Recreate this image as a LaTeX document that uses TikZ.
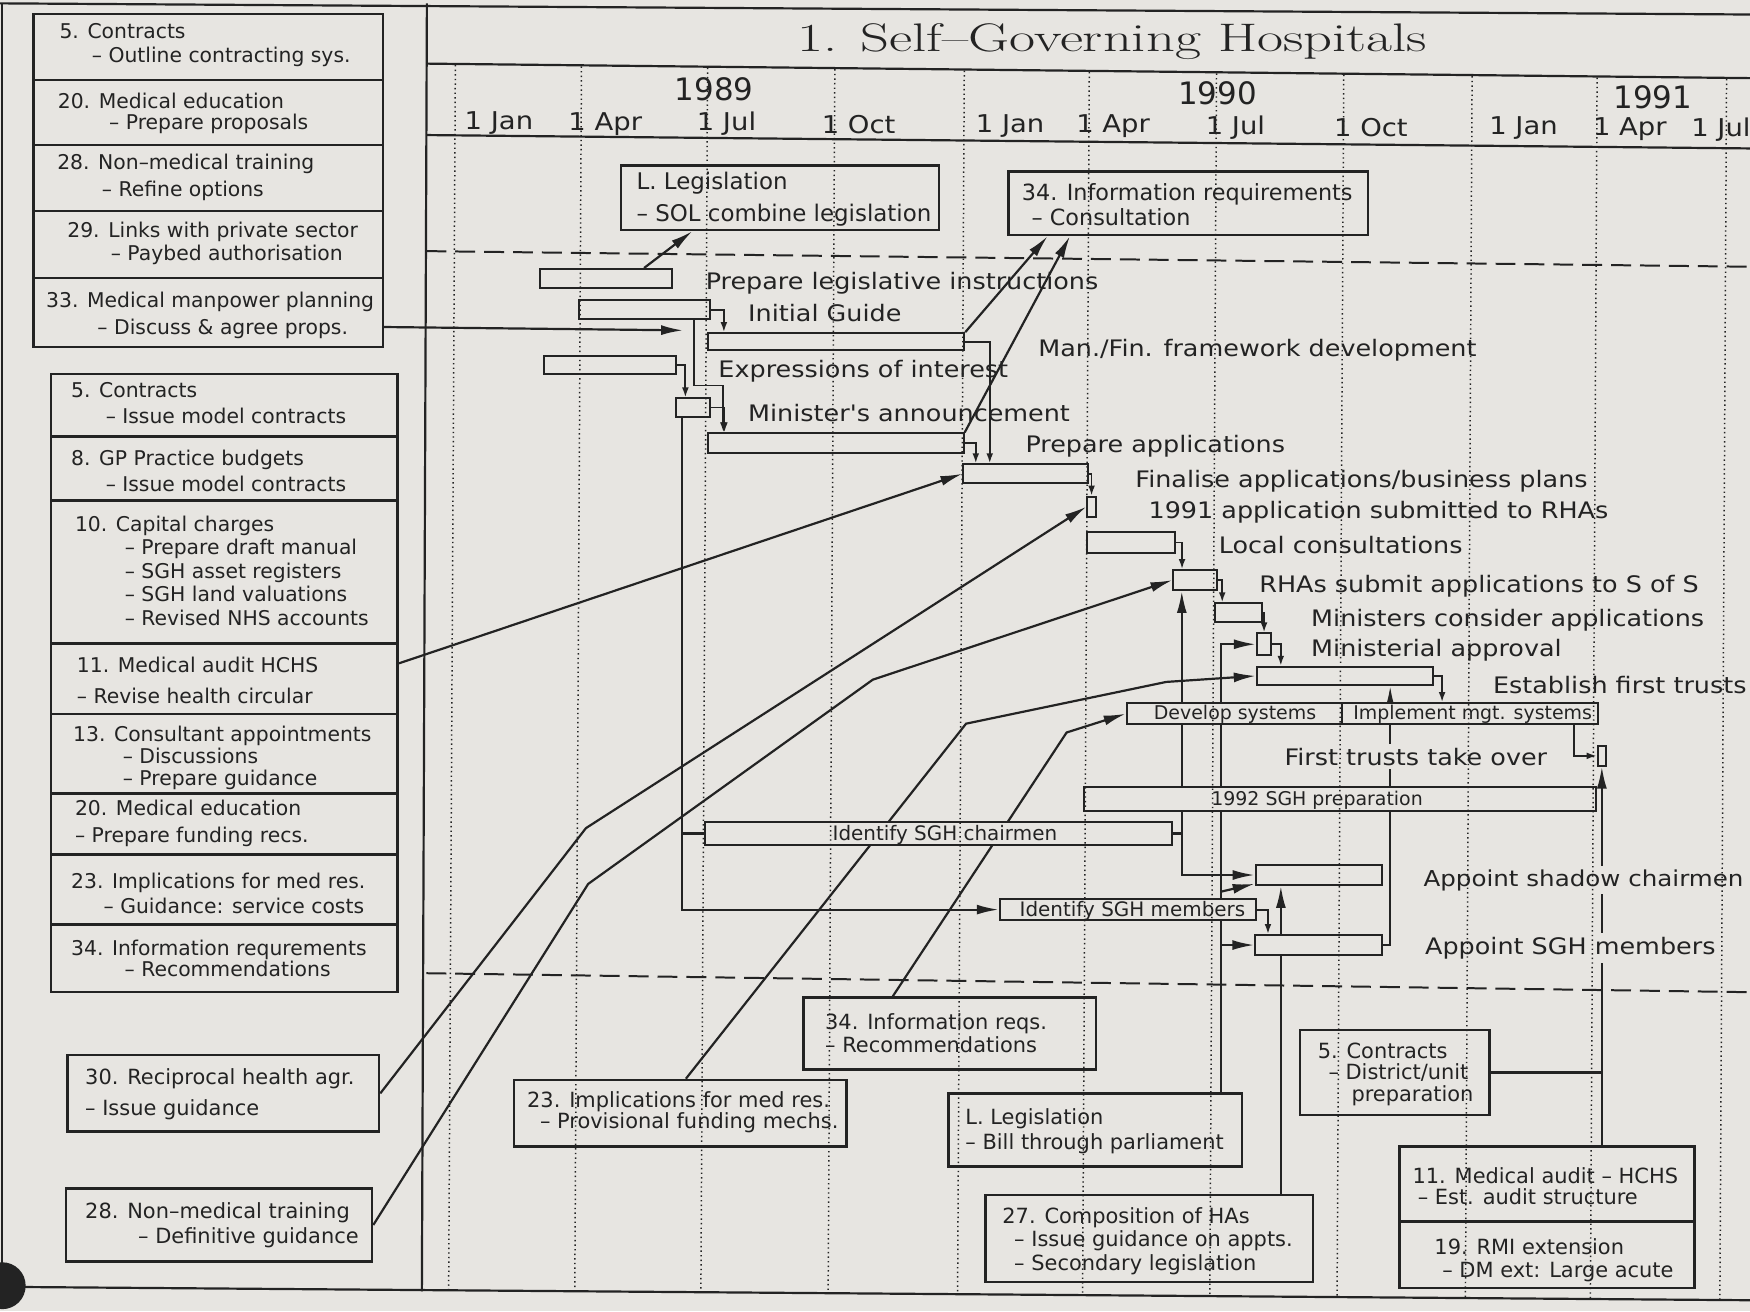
\documentclass[tikz,border=0pt]{standalone}
\usepackage{fontspec}
\usepackage{graphicx}
\newfontfamily\plotfont{DejaVu Sans}
\newfontfamily\wideplot{DejaVu Sans}[FakeStretch=1.12]
\usepackage{tikz}
\usetikzlibrary{arrows.meta}
\usetikzlibrary{fit,calc}
\definecolor{paper}{RGB}{231,229,225}
\definecolor{ink}{RGB}{35,35,35}
\newlength{\pxu}\setlength{\pxu}{0.56pt}
\pgfdeclarelayer{bg}\pgfdeclarelayer{fg}\pgfsetlayers{bg,main,fg}

\begin{document}
\begin{tikzpicture}[x=0.56pt,y=-0.56pt]
	\tikzstyle{panel}=[draw=ink,line width=1.3pt,inner sep=0pt]
	\tikzstyle{bar}=[draw=ink,fill=paper,line width=1pt,inner sep=0pt,text=ink,font=\plotfont\fontsize{9.5}{11}\selectfont]
	\tikzstyle{barlbl}=[inner sep=0pt,text=ink,font=\plotfont\fontsize{9.5}{11}\selectfont]
	\tikzstyle{boxtxt}=[anchor=west,align=left,inner sep=0pt,text=ink,font=\plotfont\fontsize{10.2}{11.8}\selectfont]
	\tikzstyle{notetxt}=[boxtxt,font=\plotfont\fontsize{10.5}{12.6}\selectfont]
	\tikzstyle{lbl}=[anchor=west,inner sep=0pt,text=ink,font=\wideplot\fontsize{11.4}{13}\selectfont]
	\tikzstyle{monthlbl}=[anchor=west,inner sep=0pt,text=ink,font=\wideplot\fontsize{12.3}{14}\selectfont]
	\tikzstyle{yearlbl}=[inner sep=0pt,text=ink,font=\plotfont\fontsize{15.5}{18}\selectfont]
	\tikzstyle{feed}=[draw=ink,line width=1.1pt,-{Latex[length=11pt,width=5pt]}]
	\tikzstyle{link}=[draw=ink,line width=0.9pt,-{Latex[length=5pt,width=3.4pt]}]
	\tikzstyle{gridline}=[draw=ink,line width=0.75pt,dash pattern=on 0.7pt off 1.6pt]
	\tikzstyle{rule}=[draw=ink,line width=1.1pt]

	\begin{pgfonlayer}{bg}
		\fill[paper] (0,0) rectangle (1568,1175);
	\end{pgfonlayer}
	\useasboundingbox (0,0) rectangle (1568,1175);

	% frame and time scale
	\draw[rule] (0,3) -- (1568,13);
	\draw[rule] (2,3) -- (2,1153);
	\draw[rule] (382.5,3) -- (378,1157);
	\draw[rule] (382,57) -- (1568,70);
	\draw[rule] (382,121) -- (1568,133);
	\draw[rule] (0,1153) -- (1568,1165);
	\draw[ink,line width=1pt,dash pattern=on 10pt off 4.5pt] (382,225) -- (1568,239);
	\draw[ink,line width=1pt,dash pattern=on 10pt off 4.5pt] (382,872) -- (1568,889);
	\fill[ink] (2,1152) circle (21);

	\node[anchor=base,inner sep=0pt,text=ink] (title) at (996.8,46) {\scalebox{1.42}[1]{\fontsize{20}{24}\selectfont 1. Self–Governing Hospitals}};
	\node[yearlbl] (y89) at (640,80) {1989};
	\node[yearlbl] (y90) at (1091,84) {1990};
	\node[yearlbl] (y91) at (1481,87) {1991};
	\foreach \mx/\my/\mt [count=\i] in {416/110/1 Jan,509/111/1 Apr,624/111/1 Jul,736/112/1 Oct,874/113/1 Jan,964/113/1 Apr,1080/114/1 Jul,1195/114/1 Oct,1334/115/1 Jan,1427/115.5/1 Apr,1515/116/1 Jul}
		\node[monthlbl] (m\i) at (\mx,\my) {\mt};

	% left panel
	\node[panel,fit={(30.2,12.5) (343,71.7)}] (con5) {};
	\node[panel,fit={(30.2,71.7) (343,130)}] (med20) {};
	\node[panel,fit={(30.2,130) (343,189)}] (nmt28a) {};
	\node[panel,fit={(30.2,189) (343,249)}] (pri29) {};
	\node[panel,fit={(30.2,249) (343,311)}] (man33) {};
	\node[boxtxt] (con5t) at (53,40.3) {5. Contracts\\\hspace*{29\pxu}– Outline contracting sys.};
	\node[boxtxt] (med20t) at (51.5,101.9) {20. Medical education\\[-2.5\pxu]\hspace*{46\pxu}– Prepare proposals};
	\node[boxtxt] (nmt28at) at (51,159) {28. Non–medical training\\[3\pxu]\hspace*{40\pxu}– Refine options};
	\node[boxtxt] (pri29t) at (60,218) {29. Links with private sector\\\hspace*{39\pxu}– Paybed authorisation};
	\node[boxtxt] (man33t) at (41,282.3) {33. Medical manpower planning\\[3\pxu]\hspace*{46\pxu}– Discuss \& agree props.};

	\node[panel,fit={(45.6,335.2) (356.3,391)}] (con5b) {};
	\node[panel,fit={(45.6,391) (356.3,448.6)}] (gpb8) {};
	\node[panel,fit={(45.6,448.6) (356.3,576.8)}] (cap10) {};
	\node[panel,fit={(45.6,576.8) (356.3,639.9)}] (aud11) {};
	\node[panel,fit={(45.6,639.9) (356.3,711.2)}] (cons13) {};
	\node[panel,fit={(45.6,711.2) (356.3,765.4)}] (med20b) {};
	\node[panel,fit={(45.6,765.4) (356.3,828.6)}] (imp23a) {};
	\node[panel,fit={(45.6,828.6) (356.3,888.8)}] (inf34a) {};
	\node[boxtxt] (con5bt) at (63.4,361.5) {5. Contracts\\[2\pxu]\hspace*{31\pxu}– Issue model contracts};
	\node[boxtxt] (gpb8t) at (63.4,421.7) {8. GP Practice budgets\\[2\pxu]\hspace*{31\pxu}– Issue model contracts};
	\node[boxtxt] (cap10t) at (66.9,511.3) {10. Capital charges\\\hspace*{44.6\pxu}– Prepare draft manual\\\hspace*{44.6\pxu}– SGH asset registers\\\hspace*{44.6\pxu}– SGH land valuations\\\hspace*{44.6\pxu}– Revised NHS accounts};
	\node[boxtxt] (aud11t) at (68.6,609.6) {11. Medical audit HCHS\\[6\pxu]– Revise health circular};
	\node[boxtxt] (cons13t) at (65.2,679) {13. Consultant appointments\\[-1\pxu]\hspace*{44.5\pxu}– Discussions\\[-1\pxu]\hspace*{44.5\pxu}– Prepare guidance};
	\node[boxtxt] (med20bt) at (66.9,737.5) {20. Medical education\\[3\pxu]– Prepare funding recs.};
	\node[boxtxt] (imp23at) at (63.4,800.5) {23. Implications for med res.\\[1\pxu]\hspace*{29.2\pxu}– Guidance: service costs};
	\node[boxtxt] (inf34at) at (63.4,858.7) {34. Information requrements\\[-2\pxu]\hspace*{48\pxu}– Recommendations};

	\node[panel,fit={(60.7,945.3) (339.6,1014)}] (rha30) {};
	\node[panel,fit={(59,1064.7) (333.3,1130.5)}] (nmt28) {};
	\node[notetxt] (rha30t) at (76,980.3) {30. Reciprocal health agr.\\[5.6\pxu]– Issue guidance};
	\node[notetxt] (nmt28t) at (76,1097.4) {28. Non–medical training\\\hspace*{47.5\pxu}– Definitive guidance};

	% notes in the chart
	\node[panel,fit={(556.5,148.5) (841.5,206)}] (legal) {};
	\node[panel,fit={(903.8,153.8) (1225.8,210.5)}] (info) {};
	\node[panel,fit={(720,894) (982,958)}] (inf34) {};
	\node[panel,fit={(460.4,967.7) (758.7,1027.5)}] (imp23) {};
	\node[panel,fit={(850,979.7) (1113,1045.4)}] (bill) {};
	\node[panel,fit={(883.2,1070.8) (1176.5,1148.5)}] (comp27) {};
	\node[panel,fit={(1164.9,923) (1334.8,999)}] (dist5) {};
	\node[panel,fit={(1254,1027.5) (1518,1094.7)}] (aud11b) {};
	\node[panel,fit={(1254,1094.7) (1518,1154)}] (rmi19) {};
	\node[notetxt,font=\plotfont\fontsize{11.5}{13}\selectfont] (legalt) at (570,178.3) {L. Legislation\\[5\pxu]– SOL combine legislation};
	\node[notetxt,font=\plotfont\fontsize{11.2}{13}\selectfont] (infot) at (915.3,183.4) {34. Information requirements\\\hspace*{8.7\pxu}– Consultation};
	\node[notetxt] (inf34t) at (739,925.8) {34. Information reqs.\\[-2.5\pxu]– Recommendations};
	\node[notetxt] (imp23t) at (472,996.8) {23. Implications for med res.\\[-3.5\pxu]\hspace*{11.5\pxu}– Provisional funding mechs.};
	\node[notetxt] (billt) at (864.7,1013.3) {L. Legislation\\– Bill through parliament};
	\node[notetxt] (comp27t) at (897.8,1111.9) {27. Composition of HAs\\[-1.4\pxu]\hspace*{10.6\pxu}– Issue guidance on appts.\\[-1.4\pxu]\hspace*{10.6\pxu}– Secondary legislation};
	\node[notetxt] (dist5t) at (1180.4,962.6) {5. Contracts\\[-3\pxu]\hspace*{9.6\pxu}– District/unit\\[-3\pxu]\hspace*{30.2\pxu}preparation};
	\node[notetxt] (aud11bt) at (1265.3,1062.7) {11. Medical audit – HCHS\\[-3.7\pxu]\hspace*{4.7\pxu}– Est. audit structure};
	\node[notetxt] (rmi19t) at (1284.9,1129) {19. RMI extension\\[-2\pxu]\hspace*{7.1\pxu}– DM ext: Large acute};

	% activity bars
	\node[bar,fit={(484,241) (602,258)}] (legis) {};
	\node[bar,fit={(519,269) (636,286)}] (guide) {};
	\node[bar,fit={(634.5,298.5) (864,314)}] (frame) {};
	\node[bar,fit={(487.5,318.7) (606,335.5)}] (interest) {};
	\node[bar,fit={(605.5,357) (636.2,373.4)}] (announce) {};
	\node[bar,fit={(634.5,388.3) (863.5,406.2)}] (prepare) {};
	\node[bar,fit={(863.2,416) (975.2,433)}] (finalise) {};
	\node[bar,fit={(974.3,445) (981.8,463)}] (submit) {};
	\node[bar,fit={(973.7,476.4) (1052.9,495.8)}] (consult) {};
	\node[bar,fit={(1051.4,510.8) (1090.2,528.7)}] (rhas) {};
	\node[bar,fit={(1088.7,540.6) (1130.5,557)}] (consider) {};
	\node[bar,fit={(1126,567.5) (1138.6,587)}] (approve) {};
	\node[bar,fit={(1126,597.4) (1284.3,613.8)}] (establish) {};
	\node[bar,fit={(1009.5,630) (1202,649)}] (develop) {};
	\node[bar,fit={(1202,630) (1432,649)}] (implement) {};
	\node[bar,fit={(1431.5,668.5) (1439,686)}] (takeover) {};
	\node[bar,fit={(971.7,705.5) (1430,727)}] (sgh92) {};
	\node[bar,fit={(631.8,736.5) (1049.7,757)}] (chair) {};
	\node[bar,fit={(895.7,805.6) (1125.7,824.4)}] (members) {};
	\node[bar,fit={(1125,775) (1238,793)}] (apchair) {};
	\node[bar,fit={(1124.7,837.8) (1237.9,855.7)}] (apmem) {};
	\node[barlbl] (developl) at (1106.6,640) {Develop systems};
	\node[barlbl] (implementl) at (1319.5,640) {Implement mgt. systems};
	\node[barlbl,anchor=west] (sgh92l) at (1085,717) {1992 SGH preparation};
	\node[barlbl,font=\plotfont\fontsize{10}{11}\selectfont] (chairl) at (846.6,748.5) {Identify SGH chairmen};
	\node[barlbl,font=\plotfont\fontsize{10}{11}\selectfont] (membersl) at (1014.7,816) {Identify SGH members};

	\node[lbl] (legisl) at (632,253.6) {Prepare legislative instructions};
	\node[lbl] (guidel) at (670,280.5) {Initial Guide};
	\node[lbl] (framel) at (930,313.6) {Man./Fin. framework development};
	\node[lbl] (interestl) at (643.4,333) {Expressions of interest};
	\node[lbl] (announcel) at (670,370) {Minister's announcement};
	\node[lbl] (preparel) at (918.5,400) {Prepare applications};
	\node[lbl] (finalisel) at (1017,431) {Finalise applications/business plans};
	\node[lbl] (submitl) at (1028.8,459) {1991 application submitted to RHAs};
	\node[lbl] (consultl) at (1091.7,488.5) {Local consultations};
	\node[lbl] (rhasl) at (1128,525.7) {RHAs submit applications to S of S};
	\node[lbl] (considerl) at (1174.5,555.6) {Ministers consider applications};
	\node[lbl] (approvel) at (1174.5,582.5) {Ministerial approval};
	\node[lbl] (establishl) at (1337.4,613.8) {Establish first trusts};
	\node[lbl,fill=paper,inner sep=2pt] (takeoverl) at (1147,678) {First trusts take over};
	\node[lbl,fill=paper,inner sep=1.5pt,font=\wideplot\fontsize{11}{13}\selectfont] (apchairl) at (1272.5,788.5) {Appoint shadow chairmen};
	\node[lbl,fill=paper,inner sep=2pt] (apmeml) at (1273,849.8) {Appoint SGH members};

	% step links
	\draw[feed] ($(legis.north west)+(94,0)$) -- ($(legal.south west)+(65,0)$);
	\draw[link] (guide.east) -| ($(frame.north west)+(15,0)$);
	\draw[link] ($(guide.south west)+(104,0)$) |- ($(prepare.north west)+(14.5,-42)$) -- ($(prepare.north west)+(14.5,0)$);
	\draw[link] (interest.east) -| ($(announce.north west)+(9.5,0)$);
	\draw[link] (announce.east) -| ($(prepare.north west)+(15.5,0)$);
	\draw[feed] ($(announce.south west)+(6.5,0)$) |- (members.west);
	\draw[rule] (chair.west) -- ++(-20.8,0);
	\draw[feed] (frame.north east) -- ($(info.south west)+(36,0)$);
	\draw[feed] (prepare.north east) -- ($(info.south west)+(56,0)$);
	\draw[link] (frame.east) -| ($(finalise.north west)+(24.5,0)$);
	\draw[link] (prepare.east) -| ($(finalise.north west)+(12,0)$);
	\draw[link] (finalise.east) -| (submit.north);
	\draw[link] (consult.east) -| ($(rhas.north west)+(8.6,0)$);
	\draw[link] (rhas.east) -| ($(consider.north west)+(7.3,0)$);
	\draw[link] (consider.east) -| ($(approve.north west)+(7.5,0)$);
	\draw[link] (approve.east) -| ($(establish.north west)+(22.5,0)$);
	\draw[link] (establish.east) -| ($(implement.north west)+(91,0)$);
	\draw[link] ($(implement.south west)+(209,0)$) |- (takeover.west);
	\draw[link] (members.east) -| ($(apmem.north west)+(12.3,0)$);

	% feeds from the other topics
	\coordinate (mpend) at (612,296);
	\draw[feed] ($(man33.east)+(0,13)$) -- (mpend);
	\draw[feed] ($(aud11.east)+(0,-14)$) -- (finalise.west);
	\draw[feed] (rha30.east) -- (525,742) -- (submit.west);
	\draw[feed] (nmt28.east) -- (527,792) -- (782,609) -- (rhas.west);

	\begin{pgfonlayer}{bg}
		\coordinate (v0) at ($(chair.east)+(8.3,0)$);
		\draw[rule] (chair.east) -- (v0);
		\draw[feed] (v0) -- (v0 |- rhas.south);
		\draw[feed] (v0) |- (apchair.west);
		\coordinate (v1) at ($(bill.north east)+(-20,0)$);
		\draw[feed] (v1) |- (approve.west);
		\draw[feed] (v1 |- apmem.west) -- (apmem.west);
		\coordinate (v1c) at (v1 |- apchair.south);
		\draw[feed] ($(v1c)+(0,5)$) -- ($(apchair.south west)+(0,-2)$);
		\coordinate (v2) at ($(comp27.north east)+(-30,0)$);
		\draw[feed] (v2) -- (v2 |- apchair.south);
		\draw[feed] (apmem.east) -| ($(establish.south west)+(120.5,0)$);
		\coordinate (v4) at (takeover.south |- aud11b.north);
		\draw[feed] (v4) -- (takeover.south);
		\draw[ink,line width=1.4pt] (dist5.east) -- (dist5.east -| v4);
		\draw[feed] ($(imp23.north)+(5,0)$) -- (865.6,648.4) -- (1045,611) -- (establish.west);
		\draw[feed] ($(inf34.north west)+(81,0)$) -- (955.7,656.3) -- (develop.west);
	\end{pgfonlayer}

	% quarter grid
	\begin{pgfonlayer}{fg}
		\foreach \gx in {408,521,634,748,864,976,1090,1204,1319,1431,1547}
			\draw[gridline] (\gx,{58+0.011*(\gx-382)}) -- ({\gx-6},{1153+0.0077*\gx});
	\end{pgfonlayer}
\end{tikzpicture}
\end{document}
